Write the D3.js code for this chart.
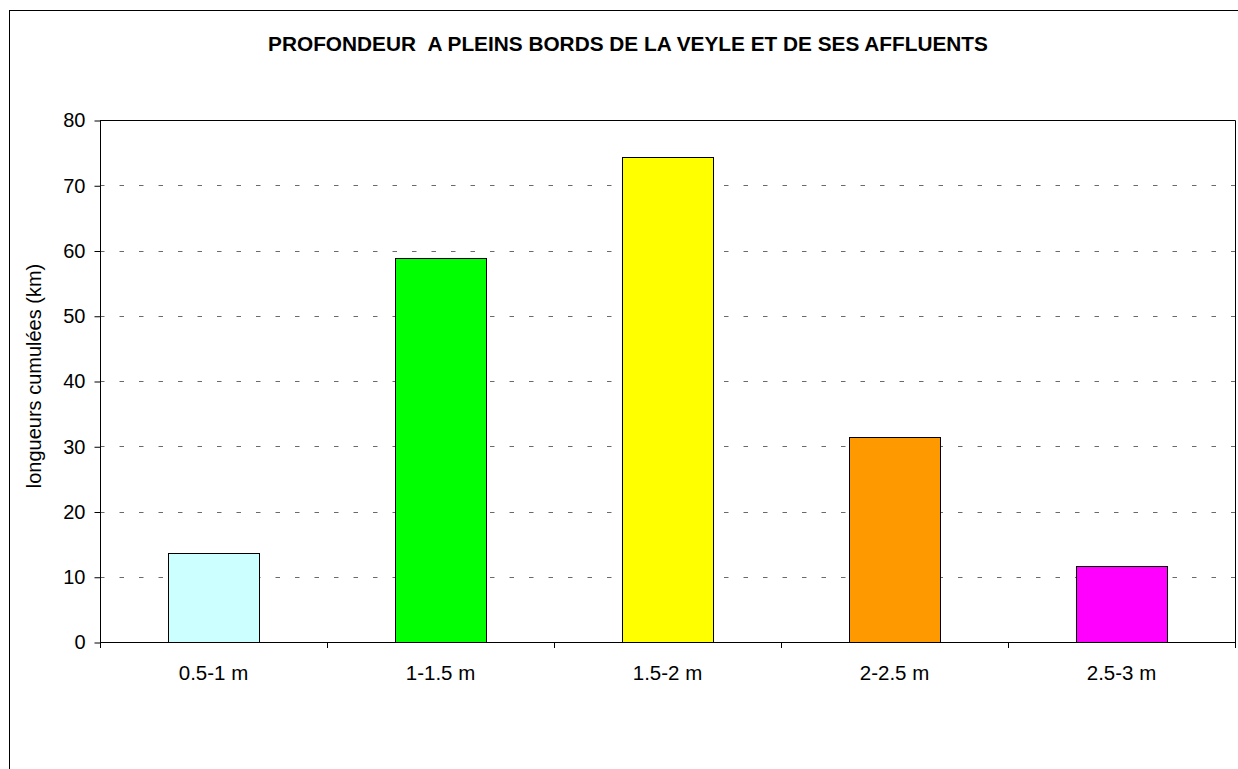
<!DOCTYPE html>
<html>
<head>
<meta charset="utf-8">
<script src="https://cdn.jsdelivr.net/npm/d3@7"></script>
<style>
  html, body { margin: 0; padding: 0; background: #fff; }
  svg { display: block; font-family: "Liberation Sans", Arial, sans-serif; }
</style>
</head>
<body>
<svg id="chart" width="1238" height="769"></svg>
<script>
// Depth classes and cumulated lengths (km)
const categories = ["0.5-1 m", "1-1.5 m", "1.5-2 m", "2-2.5 m", "2.5-3 m"];
const lengths = [13.7, 58.8, 74.3, 31.4, 11.6];
const barColors = ["#CCFFFF", "#00FF00", "#FFFF00", "#FF9900", "#FF00FF"];
const yTicks = [0, 10, 20, 30, 40, 50, 60, 70, 80];

const titleText = "PROFONDEUR\u00A0\u00A0A PLEINS BORDS DE LA VEYLE ET DE SES AFFLUENTS";
const yLabel = "longueurs cumulées (km)";

const svg = d3.select("#chart");
const plot = { left: 100, top: 120, right: 1235, bottom: 642 };

// Chart area frame (runs past the right and bottom edges)
svg.append("rect")
  .attr("x", 9.5).attr("y", 10.5)
  .attr("width", 1400).attr("height", 900)
  .attr("fill", "#fff").attr("stroke", "#000").attr("stroke-width", 1);

const x = d3.scaleBand()
  .domain(categories)
  .range([plot.left, plot.right])
  .paddingInner(0.6)
  .paddingOuter(0.3);

const y = d3.scaleLinear()
  .domain([0, 80])
  .range([plot.bottom, plot.top]);

// Dashed horizontal gridlines
svg.append("g")
  .selectAll("line")
  .data(yTicks.filter(t => t > 0 && t < 80))
  .join("line")
  .attr("x1", plot.left).attr("x2", plot.right)
  .attr("y1", d => Math.round(y(d)) + 0.5)
  .attr("y2", d => Math.round(y(d)) + 0.5)
  .attr("stroke", "#6a6a6a")
  .attr("stroke-width", 1)
  .attr("stroke-dasharray", "4.5,15");

// Plot area border: top and right edges
svg.append("path")
  .attr("d", `M${plot.left},${plot.top + 0.5}H${plot.right + 0.5}V${plot.bottom}`)
  .attr("fill", "none").attr("stroke", "#000").attr("stroke-width", 1);

// Bars
svg.append("g")
  .selectAll("rect")
  .data(categories)
  .join("rect")
  .attr("x", d => Math.round(x(d)) + 0.5)
  .attr("y", (d, i) => Math.round(y(lengths[i])) + 0.5)
  .attr("width", Math.round(x.bandwidth()))
  .attr("height", (d, i) => Math.round(y(0)) - Math.round(y(lengths[i])))
  .attr("fill", (d, i) => barColors[i])
  .attr("stroke", "#000")
  .attr("stroke-width", 1);

// Y axis
const yAxis = d3.axisLeft(y)
  .tickValues(yTicks)
  .tickSize(6)
  .tickPadding(9)
  .tickFormat(d3.format("d"));

const gy = svg.append("g")
  .attr("transform", `translate(${plot.left + 0.5},0.5)`)
  .call(yAxis);
gy.select(".domain").attr("stroke", "#000").attr("d", `M-0,${plot.top}V${plot.bottom}`);
gy.selectAll(".tick line").attr("stroke", "#000");
gy.selectAll(".tick text")
  .attr("font-size", 20)
  .attr("fill", "#000")
  .attr("font-family", "Liberation Sans, Arial, sans-serif");

// X axis baseline and category boundary ticks
const step = x.step();
const firstEdge = x(categories[0]) - (step - x.bandwidth()) / 2;
const edges = d3.range(categories.length + 1).map(i => firstEdge + i * step);

const gx = svg.append("g");
gx.append("line")
  .attr("x1", plot.left).attr("x2", plot.right + 1)
  .attr("y1", plot.bottom + 0.5).attr("y2", plot.bottom + 0.5)
  .attr("stroke", "#000");
gx.selectAll("line.edge")
  .data(edges)
  .join("line")
  .attr("class", "edge")
  .attr("x1", d => Math.round(d) + 0.5).attr("x2", d => Math.round(d) + 0.5)
  .attr("y1", plot.bottom).attr("y2", plot.bottom + 6)
  .attr("stroke", "#000");
gx.selectAll("text")
  .data(categories)
  .join("text")
  .attr("x", d => x(d) + x.bandwidth() / 2)
  .attr("y", 680)
  .attr("text-anchor", "middle")
  .attr("font-size", 20.5)
  .attr("fill", "#000")
  .text(d => d);

// Y axis title
svg.append("text")
  .attr("transform", `translate(41,376) rotate(-90)`)
  .attr("text-anchor", "middle")
  .attr("font-size", 20)
  .attr("fill", "#000")
  .text(yLabel);

// Chart title
svg.append("text")
  .attr("x", 628)
  .attr("y", 51)
  .attr("text-anchor", "middle")
  .attr("font-size", 20.8)
  .attr("font-weight", "bold")
  .attr("fill", "#000")
  .text(titleText);
</script>
</body>
</html>
